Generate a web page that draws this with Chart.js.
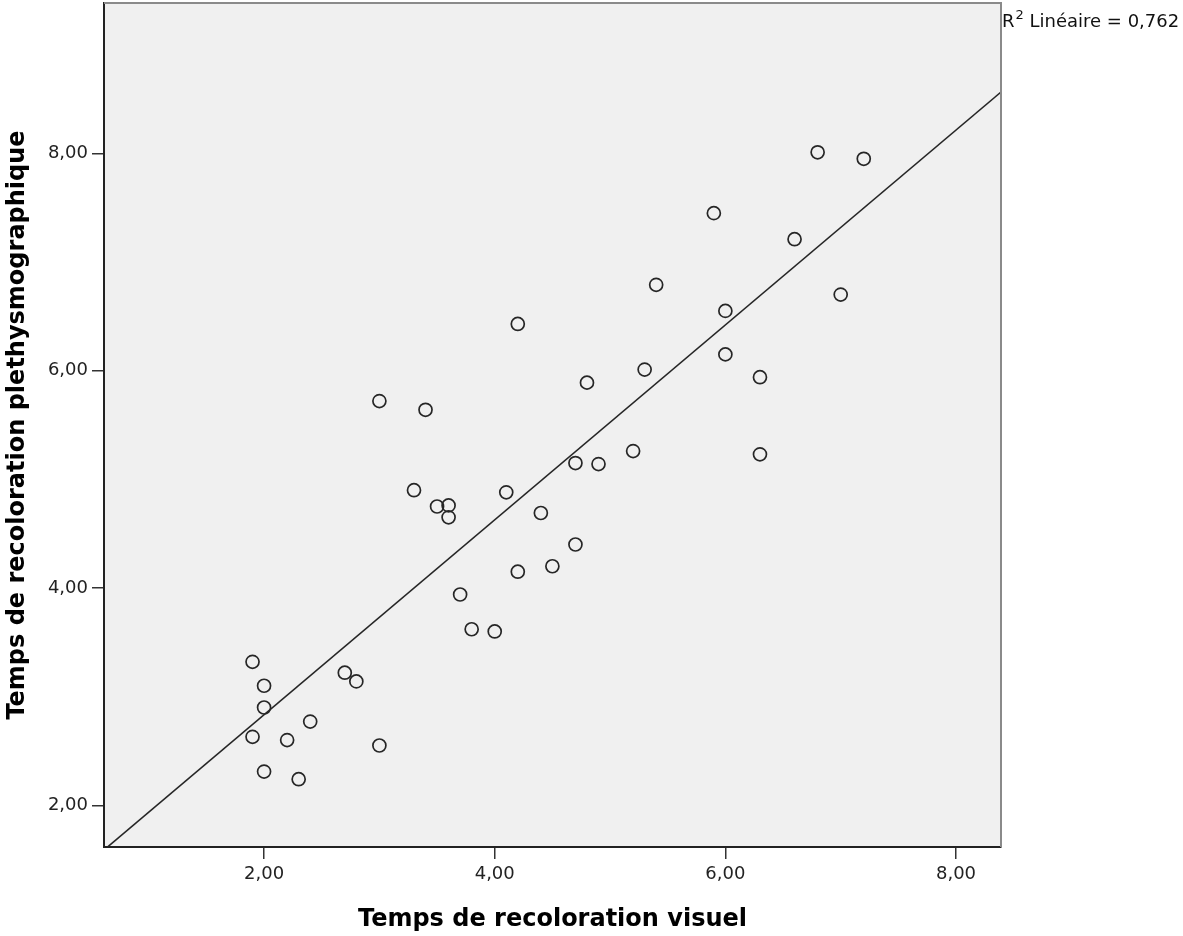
<!DOCTYPE html>
<html>
<head>
<meta charset="utf-8">
<script src="https://cdn.jsdelivr.net/npm/chart.js@4.4.1/dist/chart.umd.min.js"></script>
<style>
  body { margin: 0; background: #fff; }
  canvas { display: block; }
</style>
</head>
<body>
<canvas id="scatterChart" width="1183" height="936"></canvas>
<script>
// values
const visuel = [1.9, 2.0, 2.0, 1.9, 2.0, 2.2, 2.3, 2.4, 2.7, 2.8, 3.0,
                3.0, 3.3, 3.4, 3.5, 3.6, 3.6, 3.7, 3.8, 4.0,
                4.1, 4.2, 4.2, 4.4, 4.5, 4.7, 4.7, 4.8, 4.9,
                5.2, 5.3, 5.4, 5.9, 6.0, 6.0, 6.3, 6.3, 6.6, 6.8, 7.0, 7.2];
const plethysmo = [3.32, 3.10, 2.90, 2.63, 2.31, 2.60, 2.24, 2.77, 3.22, 3.14, 2.55,
                   5.72, 4.90, 5.64, 4.75, 4.76, 4.65, 3.94, 3.62, 3.60,
                   4.88, 6.43, 4.15, 4.69, 4.20, 4.40, 5.15, 5.89, 5.14,
                   5.26, 6.01, 6.79, 7.45, 6.55, 6.15, 5.94, 5.23, 7.21, 8.01, 6.70, 7.95];
const xTicks = [2, 4, 6, 8];
const yTicks = [2, 4, 6, 8];
const xRange = [0.612, 8.39];
const yRange = [1.616, 9.384];
const r2Text = '0,762';

const points = visuel.map((v, i) => ({x: v, y: plethysmo[i]}));

// droite des moindres carres
const n = points.length;
const mx = visuel.reduce((a, b) => a + b, 0) / n;
const my = plethysmo.reduce((a, b) => a + b, 0) / n;
let sxy = 0, sxx = 0;
points.forEach(p => { sxy += (p.x - mx) * (p.y - my); sxx += (p.x - mx) * (p.x - mx); });
const slope = sxy / sxx;
const intercept = my - slope * mx;
const fitLine = xRange.map(x => ({x: x, y: intercept + slope * x}));

const fmt = v => v.toFixed(2).replace('.', ',');

const plotFrame = {
    id: 'plotFrame',
    beforeDraw(chart) {
        const {ctx, chartArea: a} = chart;
        ctx.save();
        ctx.fillStyle = '#f0f0f0';
        ctx.fillRect(a.left, a.top, a.right - a.left, a.bottom - a.top);
        ctx.restore();
    },
    afterDraw(chart) {
        const {ctx, chartArea: a} = chart;
        ctx.save();
        ctx.strokeStyle = '#8a8a8a';
        ctx.lineWidth = 2;
        ctx.beginPath();
        ctx.moveTo(a.left, a.top);
        ctx.lineTo(a.right, a.top);
        ctx.lineTo(a.right, a.bottom);
        ctx.stroke();
        // R2 label
        ctx.fillStyle = '#111';
        ctx.textBaseline = 'alphabetic';
        let x = a.right + 1;
        ctx.font = '18px "DejaVu Sans"';
        ctx.fillText('R', x, 27);
        x += ctx.measureText('R').width + 1;
        ctx.font = '13px "DejaVu Sans"';
        ctx.fillText('2', x, 19);
        x += ctx.measureText('2').width;
        ctx.font = '18px "DejaVu Sans"';
        ctx.fillText(' Linéaire = ' + r2Text, x, 27);
        ctx.restore();
    }
};

new Chart(document.getElementById('scatterChart'), {
    type: 'scatter',
    data: {
        datasets: [{
            data: points,
            pointStyle: 'circle',
            pointRadius: 6.5,
            pointBorderWidth: 1.7,
            pointBorderColor: '#262626',
            pointBackgroundColor: 'rgba(0,0,0,0)',
            showLine: false
        }, {
            type: 'line',
            data: fitLine,
            borderColor: '#262626',
            borderWidth: 1.6,
            pointRadius: 0,
            fill: false
        }]
    },
    options: {
        responsive: false,
        animation: false,
        layout: {autoPadding: false, padding: {top: 3, right: 182, left: 0, bottom: 0}},
        plugins: {legend: {display: false}, tooltip: {enabled: false}},
        scales: {
            x: {
                type: 'linear',
                min: xRange[0],
                max: xRange[1],
                afterBuildTicks: s => { s.ticks = xTicks.map(v => ({value: v})); },
                afterFit: s => { s.height = 89; s.paddingLeft = 0; s.paddingRight = 0; },
                grid: {drawOnChartArea: false, tickLength: 12, color: '#333', lineWidth: 1.5},
                border: {display: true, color: '#222', width: 2},
                ticks: {
                    callback: v => fmt(v),
                    color: '#222',
                    padding: 5,
                    maxRotation: 0,
                    font: {family: 'DejaVu Sans', size: 18}
                },
                title: {
                    display: true,
                    text: 'Temps de recoloration visuel',
                    color: '#000',
                    padding: {top: 0, bottom: 2},
                    font: {family: 'DejaVu Sans', size: 24, weight: 'bold', lineHeight: 1.2}
                }
            },
            y: {
                type: 'linear',
                min: yRange[0],
                max: yRange[1],
                afterBuildTicks: s => { s.ticks = yTicks.map(v => ({value: v})); },
                afterFit: s => { s.width = 104; s.paddingTop = 0; s.paddingBottom = 0; },
                grid: {drawOnChartArea: false, tickLength: 12, color: '#333', lineWidth: 1.5},
                border: {display: true, color: '#222', width: 2},
                ticks: {
                    callback: v => fmt(v),
                    color: '#222',
                    padding: 4,
                    font: {family: 'DejaVu Sans', size: 18}
                },
                title: {
                    display: true,
                    text: 'Temps de recoloration plethysmographique',
                    color: '#000',
                    padding: {top: 3, bottom: 0},
                    font: {family: 'DejaVu Sans', size: 24, weight: 'bold', lineHeight: 1.2}
                }
            }
        }
    },
    plugins: [plotFrame]
});
</script>
</body>
</html>
